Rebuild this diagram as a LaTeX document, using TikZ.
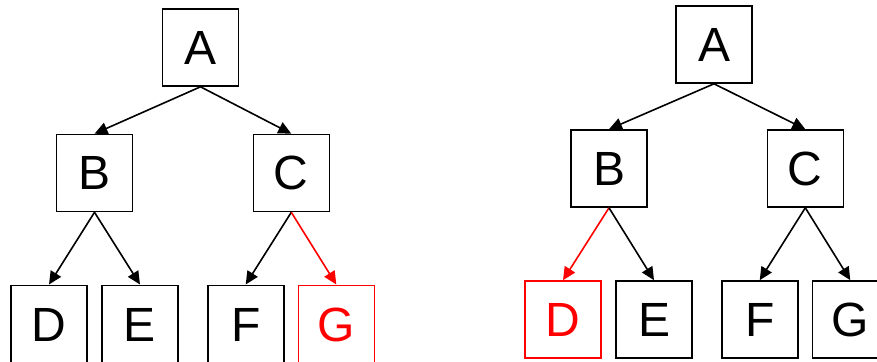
\documentclass[tikz,border=0pt]{standalone}
\usepackage{fontspec}
\setmainfont{Liberation Sans}
\usetikzlibrary{arrows.meta}
\definecolor{hot}{HTML}{FF0000}
\tikzset{
  box/.style={draw, line width=1.6pt, minimum width=76pt, minimum height=77pt,
    inner sep=0pt, font=\fontsize{48}{48}\selectfont, fill=white},
  lowbox/.style={box, minimum height=80pt},
  hotbox/.style={draw=hot, text=hot},
  edge/.style={line width=1.6pt, -{Triangle[length=13pt,width=12pt]}},
  hotedge/.style={edge, draw=hot, -{Triangle[length=13pt,width=12pt,color=hot]}}
}
\begin{document}
\begin{tikzpicture}[x=1pt,y=-1pt]
\useasboundingbox (0,0) rectangle (877,361);
% left tree (bottom row runs off the lower edge)
\node[box] (lA) at (200.5,47.5) {A};
\node[box] (lB) at (94.5,173) {B};
\node[box] (lC) at (291.3,173) {C};
\node[lowbox, anchor=north] (lD) at (49,284.5) {D};
\node[lowbox, anchor=north] (lE) at (140,284.5) {E};
\node[lowbox, anchor=north] (lF) at (245.7,284.5) {F};
\node[lowbox, hotbox, anchor=north] (lG) at (336.3,284.5) {G};
\draw[edge] (lA.south) -- (lB.north);
\draw[edge] (lA.south) -- (lC.north);
\draw[edge] (lB.south) -- (lD.north);
\draw[edge] (lB.south) -- (lE.north);
\draw[edge] (lC.south) -- (lF.north);
\draw[hotedge] (lC.south) -- (lG.north);
% right tree
\node[box] (rA) at (714,44.5) {A};
\node[box] (rB) at (609,168.5) {B};
\node[box] (rC) at (805.3,168.5) {C};
\node[box, hotbox] (rD) at (563,319.5) {D};
\node[box] (rE) at (654,319.5) {E};
\node[box] (rF) at (759.7,319.5) {F};
\node[box] (rG) at (850.3,319.5) {G};
\draw[edge] (rA.south) -- (rB.north);
\draw[edge] (rA.south) -- (rC.north);
\draw[hotedge] (rB.south) -- (rD.north);
\draw[edge] (rB.south) -- (rE.north);
\draw[edge] (rC.south) -- (rF.north);
\draw[edge] (rC.south) -- (rG.north);
\end{tikzpicture}
\end{document}
